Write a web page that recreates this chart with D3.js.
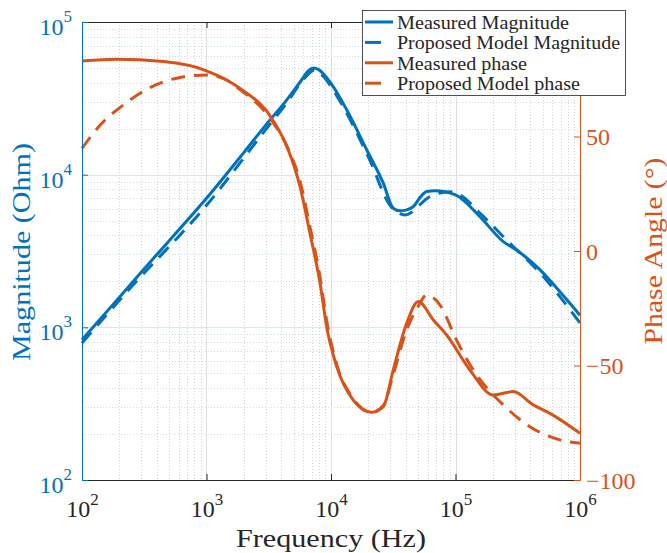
<!DOCTYPE html>
<html>
<head>
<meta charset="utf-8">
<script src="https://cdn.jsdelivr.net/npm/d3@7"></script>
<style>
  body { margin: 0; background: #fff; }
</style>
</head>
<body>
<svg id="chart" width="667" height="553" font-family="Liberation Serif, serif"></svg>
<script>
// measured / model magnitude (Ohm) vs frequency (Hz)
var magFreqMeas = [100, 180, 300, 500, 1000, 2000, 3000, 4400, 5800, 6600, 7200, 7900, 10000, 13400, 19400, 26300, 31600, 35800, 40500, 46000, 52000, 58800, 68400, 100000, 157000, 242000, 309000, 478000, 690000, 1000000];
var magMeas = [830, 1430, 2300, 3680, 7000, 14000, 21200, 30800, 41700, 48000, 50000, 49000, 39600, 26500, 14500, 8800, 6030, 5800, 5880, 6200, 7100, 7750, 7850, 7360, 5310, 3640, 3210, 2380, 1710, 1200];
var magFreqModel = [100, 243, 1000, 3000, 4400, 6000, 7400, 8950, 10400, 20500, 29800, 39300, 62400, 90400, 108700, 157000, 258000, 507000, 1000000];
var magModel = [790, 1800, 6300, 19800, 29400, 42000, 48500, 42800, 35900, 12470, 6300, 5450, 7180, 7740, 7360, 5600, 3730, 2150, 1070];

// measured / model phase (deg)
var phFreqMeas = [100, 190, 450, 1000, 1860, 3340, 4540, 5640, 6780, 8170, 9230, 11120, 15100, 21200, 26300, 31600, 40500, 50300, 66400, 84900, 130700, 201300, 291000, 421700, 574000, 1000000];
var phMeas = [83.0, 83.7, 82.7, 78.7, 71.0, 58.0, 44.1, 28.1, 7.7, -14.1, -33.1, -50.5, -65.1, -70.4, -68.0, -52.0, -31.6, -22.1, -30.1, -36.7, -52.0, -62.9, -61.4, -67.2, -70.9, -79.6];
var phFreqModel = [100, 140, 215, 331, 612, 1000, 1364, 1860, 3340, 4540, 5640, 6780, 8170, 9230, 11120, 15100, 21200, 26300, 31600, 40500, 50300, 58700, 75100, 102000, 139000, 242000, 396000, 690000, 1000000];
var phModel = [44.8, 55.0, 63.8, 70.6, 75.8, 76.9, 75.4, 70.5, 57.0, 44.5, 30.5, 10.5, -11.5, -30.5, -49.5, -64.5, -70.5, -67.5, -54.0, -34.5, -24.0, -19.2, -23.6, -38.9, -52.0, -67.2, -76.7, -82.5, -84.0];

var xTicks = [1e2, 1e3, 1e4, 1e5, 1e6];
var yMagTicks = [1e2, 1e3, 1e4, 1e5];
var yPhTicks = [-100, -50, 0, 50];
var legendNames = ["Measured Magnitude", "Proposed Model Magnitude", "Measured phase", "Proposed Model phase"];

var blue = "#0072BD", orange = "#D95319", ink = "#262626";
var L = 82, R = 580, T = 22, B = 480;
var serif = "Liberation Serif, serif";

var svg = d3.select("#chart");
var x = d3.scaleLog().domain([1e2, 1e6]).range([L, R]);
var yMag = d3.scaleLog().domain([1e2, 1e5]).range([B, T]);
var yPh = d3.scaleLinear().domain([-100, 100]).range([B, T]);

// minor positions 2..9 per decade
function minors(lo, hi) {
  var out = [];
  for (var d = lo; d < hi; d *= 10)
    for (var k = 2; k <= 9; k++) out.push(d * k);
  return out;
}
var xMinor = minors(1e2, 1e6);
var yMinor = minors(1e2, 1e5);

// grid
var grid = svg.append("g");
grid.selectAll(".vmin").data(xMinor).enter().append("line")
  .attr("x1", d => Math.round(x(d)) + 0.5).attr("x2", d => Math.round(x(d)) + 0.5)
  .attr("y1", T).attr("y2", B)
  .attr("stroke", "#c8c8c8").attr("stroke-dasharray", "1,2").attr("stroke-width", 0.8);
grid.selectAll(".hmin").data(yMinor).enter().append("line")
  .attr("y1", d => Math.round(yMag(d)) + 0.5).attr("y2", d => Math.round(yMag(d)) + 0.5)
  .attr("x1", L).attr("x2", R)
  .attr("stroke", "#b9d5ea").attr("stroke-dasharray", "1,2").attr("stroke-width", 0.8);
grid.selectAll(".vmaj").data(xTicks.slice(1, 4)).enter().append("line")
  .attr("x1", d => Math.round(x(d)) + 0.5).attr("x2", d => Math.round(x(d)) + 0.5)
  .attr("y1", T).attr("y2", B).attr("stroke", "#dedede").attr("stroke-width", 1);
grid.selectAll(".hmaj").data(yMagTicks.slice(1, 3)).enter().append("line")
  .attr("y1", d => Math.round(yMag(d)) + 0.5).attr("y2", d => Math.round(yMag(d)) + 0.5)
  .attr("x1", L).attr("x2", R).attr("stroke", "#d6e7f4").attr("stroke-width", 1);

// curves
function series(fr, vals, yScale, color, dashed) {
  var pts = fr.map((f, i) => [x(f), yScale(vals[i])]);
  var line = d3.line().curve(d3.curveMonotoneX);
  svg.append("path").attr("d", line(pts))
    .attr("fill", "none").attr("stroke", color).attr("stroke-width", 3)
    .attr("stroke-dasharray", dashed ? "14,9" : null)
    .attr("stroke-linejoin", "round");
}
series(magFreqMeas, magMeas, yMag, blue, false);
series(magFreqModel, magModel, yMag, blue, true);
series(phFreqMeas, phMeas, yPh, orange, false);
series(phFreqModel, phModel, yPh, orange, true);

// superscript labels
function sup(sel, baseDy, supDy) {
  sel.each(function(d) {
    var t = d3.select(this);
    t.text(null).attr("dy", baseDy);
    t.append("tspan").text("10");
    t.append("tspan").attr("dy", supDy).attr("font-size", "17px").text(Math.round(Math.log10(d)));
  });
}

// bottom axis
var gx = svg.append("g").attr("transform", "translate(0," + B + ")");
gx.call(d3.axisBottom(x).tickValues(xMinor).tickSizeInner(-3).tickSizeOuter(0).tickFormat(""));
gx.call(d3.axisBottom(x).tickValues(xTicks).tickSizeInner(-6).tickSizeOuter(0).tickPadding(20));
gx.attr("font-family", serif);
gx.selectAll("path.domain").attr("stroke", ink);
gx.selectAll("line").attr("stroke", ink);
gx.selectAll("text").attr("fill", ink).attr("font-size", "24px").call(sup, "0.71em", "-12px");

// top axis
var gt = svg.append("g").attr("transform", "translate(0," + T + ")");
gt.call(d3.axisTop(x).tickValues(xMinor).tickSizeInner(-3).tickSizeOuter(0).tickFormat(""));
gt.call(d3.axisTop(x).tickValues(xTicks).tickSizeInner(-6).tickSizeOuter(0).tickFormat(""));
gt.selectAll("path.domain").attr("stroke", ink);
gt.selectAll("line").attr("stroke", ink);

// left axis
var gl = svg.append("g").attr("transform", "translate(" + L + ",0)");
gl.call(d3.axisLeft(yMag).tickValues(yMinor.filter(d => d < 1e5)).tickSizeInner(-3).tickSizeOuter(0).tickFormat(""));
gl.call(d3.axisLeft(yMag).tickValues(yMagTicks).tickSizeInner(-6).tickSizeOuter(0).tickPadding(10));
gl.attr("font-family", serif);
gl.selectAll("path.domain").attr("stroke", blue);
gl.selectAll("line").attr("stroke", blue);
gl.selectAll("text").attr("fill", blue).attr("font-size", "24px").call(sup, "0.52em", "-13px");

// right axis
var gr = svg.append("g").attr("transform", "translate(" + R + ",0)");
gr.call(d3.axisRight(yPh).tickValues(yPhTicks).tickSizeInner(-6).tickSizeOuter(0).tickPadding(6));
gr.attr("font-family", serif);
gr.selectAll("path.domain").attr("stroke", orange);
gr.selectAll("line").attr("stroke", orange);
gr.selectAll("text").attr("fill", orange).attr("font-size", "24px").attr("dy", "0.34em");

// axis titles
svg.append("text").attr("x", (L + R) / 2).attr("y", 547).attr("text-anchor", "middle")
  .attr("font-size", "26px").attr("fill", ink)
  .attr("textLength", 190).attr("lengthAdjust", "spacingAndGlyphs").text("Frequency (Hz)");
svg.append("text").attr("transform", "translate(30,252) rotate(-90)").attr("text-anchor", "middle")
  .attr("font-size", "26px").attr("fill", blue)
  .attr("textLength", 218).attr("lengthAdjust", "spacingAndGlyphs").text("Magnitude (Ohm)");
svg.append("text").attr("transform", "translate(662,251) rotate(-90)").attr("text-anchor", "middle")
  .attr("font-size", "26px").attr("fill", orange)
  .attr("textLength", 187).attr("lengthAdjust", "spacingAndGlyphs").text("Phase Angle (\u00B0)");

// legend
var lg = svg.append("g");
lg.append("rect").attr("x", 362.5).attr("y", 10.5).attr("width", 263).attr("height", 85)
  .attr("fill", "#fff").attr("stroke", ink).attr("stroke-width", 0.8);
var legendColors = [blue, blue, orange, orange];
var legendDash = [false, true, false, true];
var legendWidths = [172, 223, 130, 183];
legendNames.forEach(function(name, i) {
  var yy = 22 + i * 20.4;
  lg.append("line").attr("x1", 365).attr("x2", 393).attr("y1", yy).attr("y2", yy)
    .attr("stroke", legendColors[i]).attr("stroke-width", 3)
    .attr("stroke-dasharray", legendDash[i] ? "16,14" : null);
  lg.append("text").attr("x", 397).attr("y", yy + 7).attr("font-size", "18px").attr("fill", ink)
    .attr("textLength", legendWidths[i]).attr("lengthAdjust", "spacingAndGlyphs").text(name);
});
</script>
</body>
</html>
